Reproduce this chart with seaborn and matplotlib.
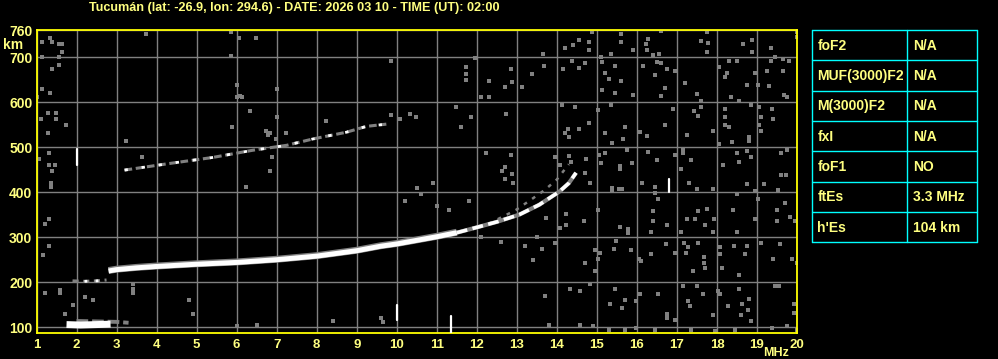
import matplotlib
matplotlib.use("Agg")
import matplotlib.pyplot as plt
import pandas as pd
import seaborn as sns

# ---------------- data ----------------
title = "Tucumán (lat: -26.9, lon: 294.6) - DATE: 2026 03 10 - TIME (UT): 02:00"
freq_ticks = list(range(1, 21))
height_ticks = [100, 200, 300, 400, 500, 600, 700, 760]

# ordinary F trace (solid part and broken upper part)
o_freq = [2.8, 3.0, 3.5, 4.0, 5.0, 6.0, 7.0, 8.0, 9.0, 9.6, 10.0, 11.0, 11.5]
o_height = [225, 228, 232, 235, 240, 244, 250, 258, 270, 280, 285, 301, 310]
o2_freq = [11.5, 12.05, 12.5, 13.06, 13.56, 14.06, 14.3, 14.48]
o2_height = [310, 323, 334, 350, 372, 401, 420, 443]

# extraordinary trace (faint)
x_freq = [12.3, 12.97, 13.35, 13.7, 14.0, 14.3]
x_height = [330, 360, 383, 405, 428, 462]

# multiple-hop trace
m_freq = [3.2, 4.27, 5.4, 6.4, 7.25, 7.9, 8.74, 9.24, 9.74]
m_height = [449, 463, 477, 493, 504, 518, 533, 546, 551]

# low faint trace near 200 km
low_freq = [1.9, 2.2, 2.5, 2.75]
low_height = [203, 202, 203, 205]

# sporadic E
es_freq = [1.75, 2.1, 2.5, 2.85]
es_height = [106, 105, 106, 107]
es2_freq = [2.0, 2.5, 3.0, 3.3]
es2_height = [114, 113, 112, 110]

# short vertical echoes (freq, bottom km, top km)
spike_freq = [2.0, 10.0, 11.35, 16.8]
spike_low = [460, 116, 88, 400]
spike_high = [495, 150, 125, 430]

# gray noise points (MHz, km)
noise_freq = [
    13.66, 14.2, 14.41, 14.56, 14.8, 14.89, 14.8, 15.1, 15.35, 15.6, 15.6, 15.91, 16.23, 16.28,
    16.41, 16.59, 16.24, 16.56, 17.6, 17.74, 17.78, 17.74, 18.64, 18.88, 18.88, 19.34, 19.45, 19.99,
    13.68, 14.16, 14.39, 14.56, 14.7, 15.12, 15.2, 15.45, 15.3, 15.6, 15.45, 15.14, 15.91, 16.16,
    16.49, 16.59, 16.74, 16.95, 16.45, 16.7, 16.6, 17.2, 17.49, 17.6, 18.05, 18.3, 18.49, 18.24,
    18.2, 18.35, 18.55, 18.95, 19.03, 18.74, 19.29, 19.24, 19.34, 19.64, 19.81, 19.64, 19.74, 19.68,
    14.12, 14.45, 15.03, 15.35, 14.81, 14.2, 14.28, 14.56, 14.31, 15.2, 15.39, 15.7, 15.66, 16.09,
    16.24, 16.7, 16.89, 17.24, 17.43, 17.53, 17.6, 17.89, 18.05, 18.2, 18.2, 18.2, 18.31, 18.37,
    18.8, 18.8, 18.84, 19.04, 19.09, 19.04, 19.09, 19.38, 19.39, 13.95, 14.09, 14.31, 14.35, 14.74,
    14.7, 15.06, 15.2, 15.1, 15.58, 15.58, 15.76, 15.89, 16.28, 16.49, 16.95, 17.14, 17.14, 17.35,
    17.1, 18.14, 18.49, 18.55, 18.74, 18.84, 19.6, 19.74, 19.59, 19.73,
    14.84, 15.39, 15.39, 15.55, 15.64, 16.14, 16.45, 16.45, 17.31, 17.49, 17.89, 18.49, 18.74, 18.95,
    19.18, 19.53, 19.03, 19.7, 13.74, 14.24, 14.08, 14.22, 14.68, 15.03, 15.59, 15.78, 15.78, 16.41,
    16.52, 16.39, 16.74, 16.35, 17.1, 17.24, 17.45, 17.53, 17.74, 17.7, 17.93, 17.89, 18.39, 18.49,
    18.95, 19.49, 19.49, 19.83, 19.95, 13.95, 13.64, 14.7, 14.95, 14.95, 15.08, 15.03, 15.48, 15.43,
    15.85, 16.06, 16.1, 16.35, 16.73, 16.95, 17.18, 17.27, 17.23, 17.53, 17.68, 17.68, 17.7, 17.41,
    18.08, 18.08, 18.12, 18.43, 18.56, 18.7, 18.74, 19.09, 19.41, 19.58, 19.87, 19.99, 13.7, 14.33,
    14.58, 14.84, 15.45, 15.34, 15.64, 15.7, 15.97, 16.07, 16.53, 16.74, 16.74, 16.95, 17.16, 17.28,
    17.33, 17.49, 17.64, 17.91, 18.03, 18.07, 18.28, 18.56, 18.62, 18.6, 18.8, 18.78, 18.84, 19.45,
    19.55, 19.93, 19.93, 13.81, 14.58, 14.91, 15.3, 15.7, 15.99, 16.45, 17.34, 17.95, 18.45, 19.37,
    19.74, 19.99, 19.99, 19.99,
    1.14, 1.34, 1.39, 1.56, 1.64, 1.64, 1.14, 1.56, 1.39, 1.56, 1.14, 1.34, 1.02, 1.28, 1.49, 1.1,
    1.49, 1.74, 1.28, 3.24, 1.3, 1.05, 1.3, 1.45, 1.39, 1.35, 1.35, 3.74, 5.85, 6.05, 6.49, 5.85,
    6.01, 6.09, 6.14, 6.01, 7.0, 6.34, 7.0, 5.89, 6.74, 6.84, 6.79, 6.99, 7.24, 6.89, 6.84, 3.64,
    6.24, 9.85, 11.95, 11.74, 11.74, 11.74, 12.3, 12.85, 12.89, 13.14, 13.39, 12.7, 12.1, 12.3, 11.49,
    11.85, 11.6, 12.74, 10.34, 10.49, 10.09, 9.85, 12.24, 12.85, 12.7, 12.64, 12.89, 12.7, 8.24, 7.24,
    1.2, 1.3, 1.15, 1.3, 1.2, 1.58, 1.58, 3.4, 3.4, 3.4, 4.8, 6.0, 6.5, 9.6, 9.65, 11.0, 11.3,
    10.6, 10.9, 11.8, 12.1, 12.6, 13.2, 13.4, 12.9, 13.5, 4.9, 2.2, 2.4, 1.7, 1.9, 8.4, 10.2, 10.5,
]
noise_height = [
    707, 720, 726, 738, 733, 755, 715, 701, 707, 752, 733, 716, 729, 741,
    704, 758, 716, 707, 735, 755, 731, 711, 729, 738, 712, 720, 701, 744,
    680, 674, 691, 676, 686, 689, 665, 681, 651, 646, 620, 627, 616, 681,
    690, 686, 674, 670, 659, 631, 614, 642, 618, 603, 677, 691, 691, 665,
    655, 611, 602, 664, 637, 638, 635, 669, 692, 696, 692, 670, 611, 616,
    593, 588, 582, 593, 553, 531, 540, 540, 522, 531, 510, 544, 518, 533,
    525, 549, 585, 527, 581, 570, 588, 535, 508, 585, 566, 549, 544, 512,
    514, 522, 593, 588, 566, 549, 535, 585, 562, 479, 461, 481, 466, 473,
    442, 482, 488, 464, 451, 458, 493, 464, 490, 471, 482, 496, 486, 471,
    451, 460, 486, 466, 492, 479, 486, 493, 438, 438,
    421, 404, 410, 408, 408, 421, 412, 399, 421, 406, 408, 396, 418, 403,
    418, 404, 384, 377, 343, 351, 321, 326, 337, 360, 323, 319, 310, 358,
    384, 337, 326, 312, 312, 341, 340, 358, 363, 326, 341, 312, 360, 312,
    340, 360, 336, 345, 336, 288, 274, 243, 271, 226, 265, 252, 292, 274,
    271, 252, 247, 263, 284, 265, 288, 278, 265, 288, 256, 243, 232, 226,
    278, 263, 232, 280, 217, 263, 280, 288, 252, 284, 252, 243, 169, 185,
    180, 195, 185, 152, 143, 161, 158, 173, 173, 130, 121, 117, 191, 158,
    147, 191, 173, 128, 180, 173, 147, 184, 152, 128, 163, 139, 113, 191,
    191, 152, 132, 104, 106, 102, 95, 95, 98, 95, 95, 92, 95, 98,
    102, 95, 745, 755,
    733, 742, 733, 729, 729, 711, 701, 701, 674, 683, 629, 620, 611, 575, 575, 562,
    562, 549, 531, 513, 486, 473, 461, 461, 446, 421, 412, 752, 755, 742, 742, 702,
    638, 614, 612, 611, 629, 580, 566, 544, 535, 531, 527, 518, 531, 477, 446, 477,
    412, 691, 698, 677, 663, 648, 646, 674, 645, 633, 663, 633, 611, 611, 588,
    566, 544, 573, 573, 566, 562, 571, 486, 482, 455, 446, 441, 429, 557, 531,
    330, 340, 260, 280, 175, 176, 183, 175, 185, 195, 160, 103, 106, 120, 112, 370, 360,
    395, 420, 380, 300, 290, 280, 250, 420, 300, 130, 168, 160, 130, 150, 115, 380, 410,
]

table_params = ["foF2", "MUF(3000)F2", "M(3000)F2", "fxI", "foF1", "ftEs", "h'Es"]
table_values = ["N/A", "N/A", "N/A", "N/A", "NO", "3.3 MHz", "104 km"]

# ---------------- style ----------------
sns.set_theme(style="dark", rc={
    "figure.facecolor": "black", "axes.facecolor": "black",
    "savefig.facecolor": "black",
})
plt.rcParams["font.family"] = ["Liberation Sans", "DejaVu Sans"]
plt.rcParams["font.weight"] = "bold"

TXT = "#ffff80"
YEL = "#ffff00"
GRID = "#808080"
NOISE = "#808080"

W, H = 998, 359
fig = plt.figure(figsize=(W / 100, H / 100), dpi=100)
fig.patch.set_facecolor("black")

ax = fig.add_axes([36.5 / W, 1 - 333 / H, (797 - 36.5) / W, (333 - 30) / H])
ax.set_facecolor("black")

# grid
ax.set_xlim(1, 20)
ax.set_ylim(87.3, 760)
ax.set_xticks(freq_ticks)
ax.set_yticks(height_ticks)
ax.set_xticklabels([str(v) for v in freq_ticks])
ax.set_yticklabels([str(v) for v in height_ticks])
ax.grid(True, color=GRID, linewidth=1.0)
ax.tick_params(axis="x", colors=TXT, labelsize=9.5, length=0, pad=4)
ax.tick_params(axis="y", colors=TXT, labelsize=10, length=0, pad=3)
for lab in ax.get_xticklabels() + ax.get_yticklabels():
    lab.set_fontweight("bold")
    lab.set_color(TXT)
for sp in ax.spines.values():
    sp.set_color(YEL)
    sp.set_linewidth(1.3)
    sp.set_visible(True)

# noise
noise_df = pd.DataFrame({"f": noise_freq, "h": noise_height})
sns.scatterplot(data=noise_df, x="f", y="h", ax=ax, marker="s", s=7,
                color=NOISE, linewidth=0, zorder=2)

def trace(fr, hg, color, lw, dashes=None, z=3):
    df = pd.DataFrame({"f": fr, "h": hg})
    sns.lineplot(data=df, x="f", y="h", ax=ax, sort=False, estimator=None,
                 color=color, linewidth=lw, zorder=z)
    ln = ax.lines[-1]
    ln.set_solid_capstyle("butt")
    if dashes is not None:
        ln.set_dashes(dashes)

# faint / gray parts
trace(low_freq, low_height, NOISE, 2.2, dashes=(2, 1.5))
trace(low_freq[1:], low_height[1:], "white", 2.0, dashes=(1, 3), z=4)
trace(es2_freq, es2_height, NOISE, 2.8, dashes=(3, 1))
trace(es_freq, es_height, "white", 5.0, z=4)
trace(m_freq, m_height, NOISE, 2.2, dashes=(2.5, 1.2))
trace(m_freq, m_height, "white", 2.0, dashes=(1.2, 5), z=4)
trace(x_freq, x_height, NOISE, 1.8, dashes=(1.5, 2.5))
trace(o_freq, [h + 1 for h in o_height], NOISE, 5.0)
trace(o_freq, o_height, "white", 3.6, z=4)
trace(o2_freq, o2_height, NOISE, 3.0)
trace(o2_freq, o2_height, "white", 2.6, dashes=(3, 1.5), z=4)

# vertical short echoes
for f, lo, hi in zip(spike_freq, spike_low, spike_high):
    sdf = pd.DataFrame({"f": [f, f], "h": [lo, hi]})
    sns.lineplot(data=sdf, x="f", y="h", ax=ax, sort=False, estimator=None,
                 color="white", linewidth=1.6, zorder=4)

ax.set_xlabel("")
ax.set_ylabel("")
if ax.get_legend():
    ax.get_legend().remove()

# labels
fig.text(294.5 / W, 1 - 7.5 / H, title, color=TXT, fontsize=9.1, fontweight="bold",
         ha="center", va="center")
fig.text(13.5 / W, 1 - 45 / H, "km", color=TXT, fontsize=10, fontweight="bold",
         ha="center", va="center")
fig.text(776 / W, 1 - 352.5 / H, "MHz", color=TXT, fontsize=9, fontweight="bold",
         ha="center", va="center")

# parameter table
tx0, tx1, ty0, ty1 = 812.3, 977.3, 30, 242.5
tab = fig.add_axes([tx0 / W, 1 - ty1 / H, (tx1 - tx0) / W, (ty1 - ty0) / H])
tab.set_facecolor("black")
tab.set_xlim(0, tx1 - tx0)
tab.set_ylim(ty1 - ty0, 0)
tab.axis("off")
CY = "#00ffff"
n = len(table_params)
rh = (ty1 - ty0) / n
for i in range(n + 1):
    tab.plot([0, tx1 - tx0], [i * rh, i * rh], color=CY, linewidth=1.0, clip_on=False)
for xv in [0, 907.3 - tx0, tx1 - tx0]:
    tab.plot([xv, xv], [0, ty1 - ty0], color=CY, linewidth=1.0, clip_on=False)
for i, (p, v) in enumerate(zip(table_params, table_values)):
    yc = (i + 0.5) * rh + 0.5
    tab.text(5, yc, p, color=TXT, fontsize=10, fontweight="bold", va="center", ha="left")
    tab.text(907.3 - tx0 + 5.5, yc, v, color=TXT, fontsize=10, fontweight="bold",
             va="center", ha="left")

fig.savefig("out.png", dpi=100, facecolor="black")
